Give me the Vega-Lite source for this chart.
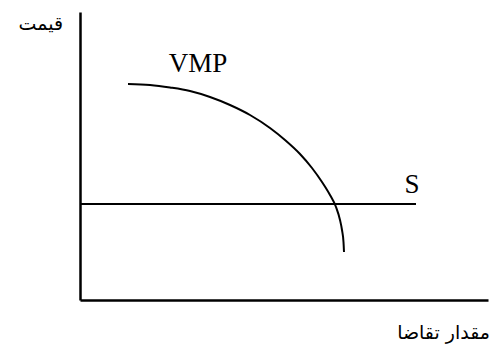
{
  "$schema": "https://vega.github.io/schema/vega-lite/v6.json",
  "width": 408,
  "height": 288,
  "autosize": "none",
  "padding": {"left": 80, "top": 12, "right": 8, "bottom": 45},
  "background": "white",
  "config": {"view": {"stroke": null}},
  "datasets": {
    "vmp": [
      {"q": 48, "p": 216}, {"q": 70, "p": 215}, {"q": 90, "p": 212.5}, {"q": 110, "p": 209},
      {"q": 130, "p": 203}, {"q": 150, "p": 195}, {"q": 170, "p": 185}, {"q": 190, "p": 172},
      {"q": 205, "p": 160}, {"q": 220, "p": 146}, {"q": 232, "p": 132}, {"q": 242, "p": 118},
      {"q": 250, "p": 105}, {"q": 256, "p": 93}, {"q": 260, "p": 80}, {"q": 262, "p": 70},
      {"q": 263.5, "p": 58}, {"q": 264, "p": 48}
    ],
    "supply": [{"q": 0, "p": 96}, {"q": 336, "p": 96}],
    "labels": [
      {"q": 118, "p": 228, "t": "VMP"},
      {"q": 332, "p": 107, "t": "S"}
    ],
    "fa": [
      {"q": -17, "p": 276, "t": "قیمت"},
      {"q": 410, "p": -33, "t": "مقدار تقاضا"}
    ]
  },
  "encoding": {
    "x": {"field": "q", "type": "quantitative", "scale": {"domain": [0, 408], "nice": false, "zero": false},
          "axis": {"title": null, "labels": false, "ticks": false, "grid": false, "domainColor": "black", "domainWidth": 2.5}},
    "y": {"field": "p", "type": "quantitative", "scale": {"domain": [0, 288], "nice": false, "zero": false},
          "axis": {"title": null, "labels": false, "ticks": false, "grid": false, "domainColor": "black", "domainWidth": 2.5}}
  },
  "layer": [
    {
      "data": {"name": "vmp"},
      "mark": {"type": "line", "color": "black", "strokeWidth": 2, "interpolate": "monotone"},
      "encoding": {
        "order": {"field": "q", "type": "quantitative"}
      }
    },
    {
      "data": {"name": "supply"},
      "mark": {"type": "line", "color": "black", "strokeWidth": 2},
      "encoding": {}
    },
    {
      "data": {"name": "labels"},
      "mark": {"type": "text", "font": "Liberation Serif", "fontSize": 27, "baseline": "alphabetic", "align": "center", "color": "black"},
      "encoding": {
        "text": {"field": "t"}
      }
    },
    {
      "data": {"name": "fa"},
      "mark": {"type": "text", "font": "DejaVu Sans", "fontSize": 19, "baseline": "middle", "align": "right", "color": "black"},
      "encoding": {
        "text": {"field": "t"}
      }
    }
  ]
}
